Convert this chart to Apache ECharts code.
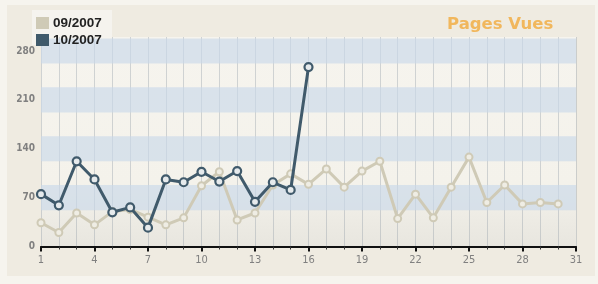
<!DOCTYPE html>
<html><head><meta charset="utf-8">
<script src="https://cdn.jsdelivr.net/npm/echarts@6/dist/echarts.min.js"></script>
<style>html,body{margin:0;padding:0;background:#f6f4ee}#c{width:598px;height:284px}</style>
</head><body><div id="c"></div>
<script>
const title = 'Pages Vues';
const seriesNames = ['09/2007', '10/2007'];
const seriesColors = ['#cfcab6', '#405a6b'];
const days = Array.from({length: 31}, (_, i) => i + 1);
const sept = [34, 20, 48, 31, 50, 53, 42, 31, 41, 87, 107, 38, 48, 88, 104, 89, 111, 85, 108, 122, 40, 75, 41, 85, 128, 63, 88, 61, 63, 61];
const oct = [75, 59, 122, 96, 49, 56, 27, 96, 92, 107, 93, 108, 64, 92, 81, 257];
const yTicks = [0, 70, 140, 210, 280];
const xTicks = [1, 4, 7, 10, 13, 16, 19, 22, 25, 28, 31];

const toPairs = arr => arr.map((v, i) => [days[i], v]);
const bandHalf = 18;
const bands = yTicks.filter(v => v > 0).map(v => [{yAxis: v - bandHalf}, {yAxis: Math.min(v + bandHalf, 300)}]);

const chart = echarts.init(document.getElementById('c'), null, {renderer: 'canvas'});
chart.setOption({
  backgroundColor: '#f6f4ee',
  animation: false,
  color: seriesColors,
  graphic: [
    {type: 'rect', z: -10, shape: {x: 7, y: 5, width: 588, height: 271}, style: {fill: '#efebe1'}},
    {type: 'rect', z: -9, shape: {x: 32, y: 10, width: 80, height: 35}, style: {fill: '#f5f3ee'}}
  ],
  title: {
    text: title, left: 442, top: 11,
    textStyle: {fontFamily: 'DejaVu Sans', fontWeight: 'bold', fontSize: 16.5, color: '#f1b75d'}
  },
  legend: {
    data: seriesNames.map((n, i) => ({name: n, itemStyle: {color: seriesColors[i], borderWidth: 0}})),
    orient: 'vertical', left: 34, top: 14,
    icon: 'rect', itemWidth: 13, itemHeight: 12, itemGap: 3, padding: 2,
    textStyle: {fontFamily: 'Liberation Sans', fontWeight: 'bold', fontSize: 13.5, color: '#222', padding: [0, 0, 0, -1]}
  },
  grid: {left: 41, right: 22, top: 37, bottom: 37.5, show: true, borderWidth: 0,
    backgroundColor: {type: 'linear', x: 0, y: 0, x2: 0, y2: 1, colorStops: [
      {offset: 0, color: '#f6f4ee'}, {offset: 0.7, color: '#f4f2eb'}, {offset: 1, color: '#e8e6df'}]}},
  xAxis: {
    type: 'value', min: 1, max: 31, interval: 3,
    axisLine: {show: true, lineStyle: {color: '#111', width: 2}},
    axisTick: {show: true, length: 5, lineStyle: {color: '#111', width: 2}},
    minorTick: {show: true, splitNumber: 3, length: 3, lineStyle: {color: '#333', width: 1}},
    splitLine: {show: true, lineStyle: {color: 'rgba(150,160,170,0.4)', width: 1}},
    minorSplitLine: {show: true, lineStyle: {color: 'rgba(150,160,170,0.4)', width: 1}},
    axisLabel: {margin: 8, fontFamily: 'DejaVu Sans Condensed', fontSize: 11, color: '#808080',
      formatter: v => xTicks.includes(v) ? String(v) : ''}
  },
  yAxis: {
    type: 'value', min: 0, max: 300, interval: 70,
    axisLine: {show: false}, axisTick: {show: false},
    splitLine: {show: false},
    axisLabel: {margin: 6, fontFamily: 'DejaVu Sans Condensed', fontWeight: 'bold', fontSize: 10, color: '#808080',
      showMaxLabel: false, formatter: v => yTicks.includes(v) ? String(v) : ''}
  },
  series: [
    {
      name: seriesNames[0], type: 'line', data: toPairs(sept), z: 3,
      lineStyle: {color: seriesColors[0], width: 3},
      itemStyle: {color: '#efede4', borderColor: seriesColors[0], borderWidth: 2},
      symbol: 'circle', symbolSize: 7,
      markArea: {silent: true, itemStyle: {color: 'rgba(202,217,234,0.65)'}, data: bands}
    },
    {
      name: seriesNames[1], type: 'line', data: toPairs(oct), z: 4,
      lineStyle: {color: seriesColors[1], width: 3},
      itemStyle: {color: '#e6eaec', borderColor: seriesColors[1], borderWidth: 2.2},
      symbol: 'circle', symbolSize: 8
    }
  ]
});
</script></body></html>
